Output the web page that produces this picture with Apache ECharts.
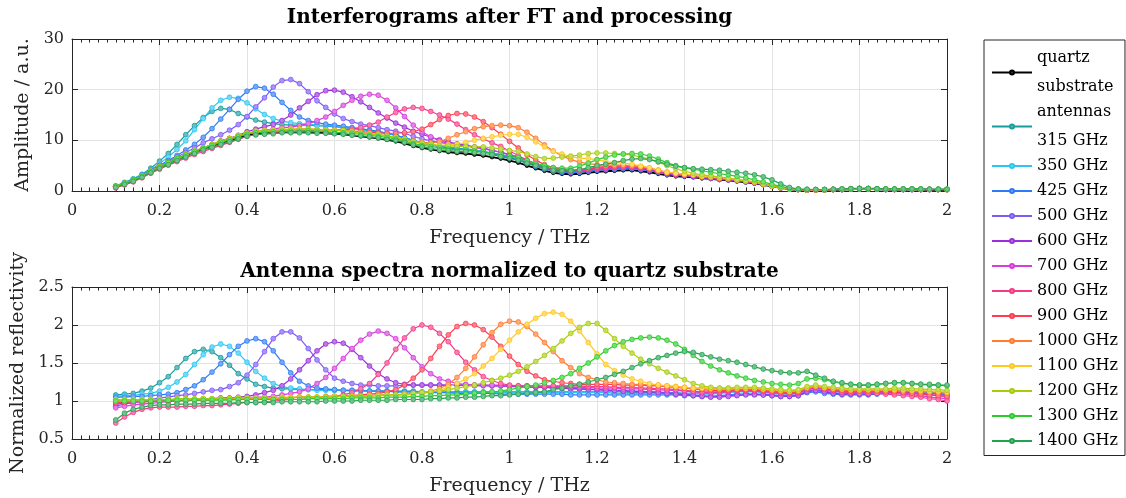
<!DOCTYPE html>
<html>
<head>
<meta charset="utf-8">
<script src="https://cdn.jsdelivr.net/npm/echarts@6/dist/echarts.min.js"></script>
<style>
  html, body { margin: 0; padding: 0; background: #ffffff; }
  #chart { width: 1126px; height: 498px; }
</style>
</head>
<body>
<div id="chart"></div>
<script>
// Frequency sampling of all spectra (THz)
const freqTHz = [
  0.10,0.12,0.14,0.16,0.18,0.20,0.22,0.24,0.26,0.28,
  0.30,0.32,0.34,0.36,0.38,0.40,0.42,0.44,0.46,0.48,
  0.50,0.52,0.54,0.56,0.58,0.60,0.62,0.64,0.66,0.68,
  0.70,0.72,0.74,0.76,0.78,0.80,0.82,0.84,0.86,0.88,
  0.90,0.92,0.94,0.96,0.98,1.00,1.02,1.04,1.06,1.08,
  1.10,1.12,1.14,1.16,1.18,1.20,1.22,1.24,1.26,1.28,
  1.30,1.32,1.34,1.36,1.38,1.40,1.42,1.44,1.46,1.48,
  1.50,1.52,1.54,1.56,1.58,1.60,1.62,1.64,1.66,1.68,
  1.70,1.72,1.74,1.76,1.78,1.80,1.82,1.84,1.86,1.88,
  1.90,1.92,1.94,1.96,1.98,2.00
];

// Amplitude spectra after FT (a.u.)
const ampQuartz = [
  0.9,1.5,2.1,2.9,3.8,4.7,5.5,6.3,7.0,7.7,
  8.3,8.9,9.5,10.0,10.5,11.0,11.3,11.4,11.5,11.6,
  11.6,11.6,11.6,11.5,11.4,11.3,11.2,11.0,10.8,10.6,
  10.4,10.1,9.8,9.4,8.9,8.5,8.2,7.9,7.7,7.5,
  7.4,7.2,7.0,6.7,6.4,6.0,5.6,5.0,4.5,4.0,
  3.6,3.4,3.3,3.4,3.6,3.8,3.9,4.0,4.1,4.1,
  3.9,3.7,3.4,3.1,2.9,2.8,2.7,2.5,2.4,2.2,
  2.1,1.9,1.7,1.5,1.2,0.9,0.6,0.35,0.25,0.2,
  0.2,0.2,0.25,0.3,0.35,0.4,0.4,0.35,0.3,0.3,
  0.3,0.3,0.3,0.25,0.25,0.25
];
const amp315 = [
  1.0,1.7,2.4,3.3,4.5,5.9,7.4,9.2,11.1,12.9,
  14.5,15.7,16.3,16.1,15.3,14.6,14.0,13.6,13.3,13.1,
  13.0,13.0,13.0,12.9,12.8,12.7,12.5,12.3,12.1,11.9,
  11.6,11.3,11.0,10.5,10.0,9.5,9.2,8.8,8.6,8.4,
  8.3,8.1,7.8,7.5,7.2,6.7,6.3,5.6,5.0,4.5,
  4.0,3.8,3.7,3.8,4.0,4.3,4.4,4.5,4.6,4.6,
  4.3,4.1,3.8,3.4,3.2,3.1,3.0,2.8,2.6,2.4,
  2.4,2.1,1.9,1.7,1.3,1.0,0.7,0.4,0.3,0.25,
  0.25,0.25,0.3,0.35,0.4,0.45,0.45,0.4,0.35,0.35,
  0.35,0.35,0.35,0.3,0.3,0.3
];
const amp350 = [
  1.0,1.6,2.3,3.2,4.2,5.4,6.7,8.2,9.9,12.1,
  14.3,16.4,17.9,18.5,18.3,17.4,16.2,15.1,14.3,13.8,
  13.5,13.3,13.2,13.0,12.9,12.8,12.6,12.4,12.2,12.0,
  11.8,11.4,11.0,10.5,10.0,9.5,9.2,8.8,8.6,8.3,
  8.2,8.0,7.8,7.4,7.1,6.7,6.2,5.6,5.0,4.4,
  4.0,3.8,3.7,3.8,4.0,4.2,4.3,4.4,4.5,4.5,
  4.3,4.1,3.7,3.4,3.2,3.1,3.0,2.7,2.6,2.4,
  2.3,2.1,1.9,1.7,1.3,1.0,0.7,0.4,0.3,0.25,
  0.25,0.25,0.3,0.35,0.4,0.45,0.45,0.4,0.35,0.35,
  0.35,0.35,0.35,0.3,0.3,0.3
];
const amp425 = [
  0.9,1.6,2.2,3.1,4.1,5.1,6.0,7.0,8.1,9.2,
  10.6,12.3,14.2,16.1,18.1,19.7,20.6,20.3,19.1,17.5,
  15.9,14.6,13.9,13.5,13.2,13.0,12.8,12.5,12.3,12.0,
  11.8,11.4,11.0,10.5,10.0,9.4,9.1,8.8,8.5,8.3,
  8.1,7.9,7.7,7.4,7.0,6.5,6.1,5.5,4.9,4.4,
  3.9,3.7,3.6,3.7,3.9,4.1,4.2,4.3,4.4,4.4,
  4.2,4.0,3.7,3.3,3.1,3.0,2.9,2.7,2.5,2.4,
  2.3,2.1,1.9,1.6,1.3,1.0,0.6,0.4,0.3,0.2,
  0.2,0.2,0.3,0.3,0.4,0.4,0.4,0.4,0.3,0.3,
  0.3,0.3,0.3,0.3,0.3,0.3
];
const amp500 = [
  0.8,1.4,2.1,2.9,3.9,4.9,5.8,6.7,7.6,8.5,
  9.5,10.3,11.1,12.0,13.1,14.7,16.6,18.4,20.5,21.8,
  22.0,21.2,19.6,17.8,16.5,15.2,14.3,13.7,13.2,12.9,
  12.5,12.1,11.8,11.4,10.8,10.3,9.9,9.6,9.3,9.1,
  9.0,8.6,8.4,8.0,7.7,7.1,6.7,6.0,5.3,4.7,
  4.2,4.0,3.9,3.9,4.2,4.4,4.5,4.6,4.7,4.6,
  4.4,4.1,3.8,3.4,3.2,3.1,2.9,2.7,2.5,2.3,
  2.2,2.1,1.9,1.6,1.3,1.0,0.6,0.4,0.3,0.2,
  0.2,0.2,0.3,0.3,0.4,0.4,0.4,0.4,0.3,0.3,
  0.3,0.3,0.3,0.3,0.3,0.3
];
const amp600 = [
  0.9,1.5,2.1,2.9,3.8,4.7,5.6,6.4,7.1,7.9,
  8.5,9.2,9.9,10.4,11.0,11.7,12.2,12.7,13.1,13.9,
  15.0,16.4,17.7,19.0,19.8,19.9,19.5,18.6,17.6,16.5,
  15.4,14.4,13.4,12.6,11.8,11.2,10.6,10.1,9.7,9.3,
  9.0,8.7,8.5,8.0,7.7,7.2,6.7,6.0,5.3,4.7,
  4.2,4.0,3.8,3.9,4.1,4.4,4.4,4.6,4.6,4.6,
  4.4,4.1,3.8,3.4,3.2,3.0,2.9,2.7,2.5,2.3,
  2.2,2.0,1.8,1.6,1.3,1.0,0.6,0.4,0.3,0.2,
  0.2,0.2,0.3,0.3,0.4,0.4,0.4,0.4,0.3,0.3,
  0.3,0.3,0.3,0.3,0.3,0.3
];
const amp700 = [
  0.8,1.4,2.0,2.8,3.7,4.6,5.4,6.3,7.1,7.8,
  8.5,9.1,9.8,10.3,10.9,11.4,11.8,12.0,12.2,12.5,
  12.6,12.9,13.3,13.9,14.6,15.7,16.9,17.9,18.7,19.1,
  18.9,17.9,16.4,14.7,13.0,11.7,10.7,9.9,9.4,9.0,
  8.9,8.6,8.3,8.0,7.6,7.1,6.6,5.9,5.3,4.7,
  4.2,4.0,3.8,3.9,4.2,4.4,4.5,4.6,4.7,4.7,
  4.5,4.2,3.9,3.5,3.3,3.1,3.0,2.8,2.6,2.4,
  2.3,2.1,1.9,1.7,1.3,1.0,0.7,0.4,0.3,0.2,
  0.2,0.2,0.3,0.3,0.4,0.4,0.4,0.4,0.3,0.3,
  0.3,0.3,0.3,0.3,0.3,0.3
];
const amp800 = [
  0.6,1.2,1.8,2.6,3.5,4.3,5.1,5.8,6.5,7.2,
  7.8,8.4,9.0,9.6,10.2,10.8,11.1,11.3,11.5,11.7,
  11.8,11.8,11.9,12.0,12.0,12.0,12.1,12.2,12.5,13.0,
  13.6,14.6,15.5,16.2,16.5,16.3,15.7,15.0,14.2,13.2,
  12.1,11.1,10.3,9.5,8.8,7.9,7.0,6.1,5.4,4.8,
  4.3,4.1,4.0,4.1,4.3,4.5,4.6,4.7,4.8,4.8,
  4.6,4.3,3.9,3.6,3.3,3.2,3.1,2.8,2.7,2.5,
  2.4,2.2,1.9,1.7,1.4,1.0,0.7,0.4,0.3,0.2,
  0.2,0.2,0.3,0.3,0.4,0.4,0.4,0.4,0.3,0.3,
  0.3,0.3,0.3,0.3,0.3,0.25
];
const amp900 = [
  0.9,1.5,2.1,2.9,3.8,4.7,5.5,6.3,7.0,7.8,
  8.4,9.0,9.7,10.2,10.7,11.3,11.6,11.7,12.0,12.1,
  12.1,12.2,12.2,12.1,12.1,12.0,12.0,11.8,11.7,11.6,
  11.5,11.4,11.4,11.5,11.7,12.2,13.1,14.1,14.9,15.3,
  15.2,14.6,13.7,12.5,11.2,9.8,8.5,7.1,6.1,5.2,
  4.6,4.3,4.1,4.2,4.4,4.7,4.8,4.9,5.0,5.0,
  4.8,4.5,4.1,3.7,3.5,3.3,3.2,2.9,2.8,2.5,
  2.4,2.2,2.0,1.7,1.4,1.0,0.7,0.4,0.3,0.2,
  0.2,0.2,0.3,0.3,0.4,0.45,0.45,0.4,0.35,0.35,
  0.35,0.35,0.3,0.3,0.3,0.3
];
const amp1000 = [
  0.9,1.5,2.1,2.9,3.8,4.7,5.6,6.4,7.1,7.9,
  8.5,9.1,9.7,10.3,10.8,11.3,11.6,11.9,12.0,12.1,
  12.1,12.2,12.2,12.1,12.1,12.0,11.9,11.8,11.6,11.3,
  11.2,10.9,10.6,10.2,9.9,9.6,9.5,9.7,10.4,11.1,
  11.7,12.3,12.7,12.9,13.0,12.9,12.5,11.6,10.4,9.1,
  7.9,6.9,6.2,5.7,5.4,5.2,5.1,5.1,5.1,5.0,
  4.8,4.5,4.1,3.7,3.5,3.3,3.2,2.9,2.8,2.6,
  2.4,2.2,2.0,1.7,1.4,1.0,0.7,0.4,0.3,0.25,
  0.25,0.25,0.3,0.35,0.4,0.45,0.45,0.4,0.35,0.35,
  0.35,0.35,0.35,0.3,0.3,0.3
];
const amp1100 = [
  0.9,1.5,2.1,2.9,3.9,4.8,5.6,6.4,7.1,7.9,
  8.5,9.2,9.8,10.3,10.9,11.4,11.8,11.9,12.0,12.2,
  12.2,12.2,12.2,12.1,12.0,12.0,11.9,11.7,11.4,11.3,
  11.1,10.8,10.5,10.2,9.7,9.4,9.2,9.0,9.1,9.2,
  9.6,10.0,10.4,10.7,11.0,11.2,11.2,10.6,9.7,8.7,
  7.8,7.3,6.8,6.5,6.4,6.2,5.8,5.6,5.5,5.3,
  4.9,4.6,4.1,3.7,3.5,3.3,3.2,2.9,2.8,2.6,
  2.5,2.2,2.0,1.8,1.4,1.0,0.7,0.4,0.3,0.25,
  0.25,0.25,0.3,0.35,0.4,0.45,0.45,0.4,0.35,0.35,
  0.35,0.35,0.35,0.3,0.3,0.3
];
const amp1200 = [
  0.9,1.5,2.1,3.0,3.9,4.8,5.6,6.5,7.2,7.9,
  8.5,9.2,9.8,10.3,10.9,11.4,11.8,11.9,12.0,12.1,
  12.1,12.2,12.2,12.1,12.0,11.9,11.9,11.7,11.4,11.2,
  11.1,10.9,10.6,10.2,9.8,9.4,9.2,8.9,8.9,8.8,
  8.8,8.7,8.7,8.5,8.3,8.0,7.8,7.3,6.8,6.4,
  6.5,6.7,6.9,7.1,7.4,7.5,7.5,7.4,7.3,7.1,
  6.7,6.3,5.7,5.0,4.4,3.9,3.5,3.2,3.0,2.8,
  2.5,2.2,2.0,1.8,1.4,1.0,0.7,0.4,0.3,0.25,
  0.25,0.25,0.3,0.35,0.4,0.45,0.45,0.4,0.35,0.35,
  0.35,0.35,0.35,0.3,0.3,0.3
];
const amp1300 = [
  0.9,1.5,2.1,2.9,3.8,4.7,5.6,6.4,7.1,7.8,
  8.4,9.0,9.6,10.1,10.7,11.2,11.5,11.6,11.7,11.8,
  11.8,11.8,11.9,11.8,11.7,11.6,11.5,11.4,11.2,11.0,
  10.8,10.6,10.3,9.9,9.4,9.0,8.8,8.5,8.3,8.1,
  8.1,7.9,7.8,7.5,7.2,6.9,6.6,6.0,5.4,5.0,
  4.6,4.5,4.5,4.9,5.5,6.2,6.7,7.1,7.3,7.4,
  7.3,6.9,6.3,5.6,5.0,4.6,4.3,4.0,3.7,3.4,
  3.2,2.9,2.6,2.2,1.8,1.3,0.9,0.5,0.35,0.3,
  0.3,0.3,0.3,0.35,0.45,0.5,0.5,0.45,0.4,0.4,
  0.4,0.4,0.4,0.35,0.35,0.35
];
const amp1400 = [
  0.7,1.3,1.9,2.7,3.6,4.5,5.2,6.0,6.7,7.4,
  8.1,8.6,9.2,9.7,10.3,10.8,11.1,11.2,11.3,11.5,
  11.5,11.5,11.5,11.4,11.4,11.3,11.2,11.0,10.9,10.7,
  10.5,10.2,10.0,9.6,9.1,8.7,8.4,8.1,8.0,7.8,
  7.8,7.6,7.4,7.2,6.8,6.5,6.1,5.5,5.0,4.5,
  4.1,4.0,4.0,4.2,4.6,5.0,5.3,5.6,6.0,6.3,
  6.4,6.2,5.8,5.3,4.9,4.6,4.4,4.3,4.2,4.1,
  3.9,3.7,3.5,3.2,2.8,2.2,1.4,0.7,0.4,0.35,
  0.3,0.3,0.35,0.4,0.45,0.5,0.5,0.45,0.4,0.4,
  0.4,0.4,0.4,0.35,0.35,0.35
];

// Antenna reflectivity normalized to the quartz substrate
const ref315 = [
  1.08,1.09,1.10,1.13,1.17,1.24,1.32,1.44,1.56,1.65,
  1.68,1.65,1.57,1.47,1.36,1.29,1.22,1.19,1.17,1.16,
  1.16,1.15,1.15,1.15,1.15,1.14,1.14,1.14,1.14,1.13,
  1.13,1.13,1.13,1.13,1.13,1.12,1.12,1.12,1.12,1.12,
  1.12,1.12,1.12,1.12,1.12,1.12,1.12,1.12,1.12,1.12,
  1.12,1.12,1.12,1.12,1.12,1.12,1.12,1.12,1.12,1.11,
  1.11,1.11,1.11,1.11,1.11,1.10,1.10,1.10,1.10,1.11,
  1.12,1.13,1.13,1.13,1.12,1.11,1.10,1.10,1.11,1.16,
  1.18,1.16,1.14,1.13,1.12,1.12,1.12,1.13,1.14,1.15,
  1.15,1.14,1.13,1.12,1.11,1.10
];
const ref350 = [
  1.06,1.07,1.07,1.09,1.10,1.13,1.18,1.25,1.35,1.48,
  1.61,1.71,1.75,1.72,1.63,1.51,1.39,1.30,1.23,1.19,
  1.17,1.16,1.15,1.14,1.14,1.14,1.14,1.13,1.13,1.13,
  1.13,1.13,1.12,1.12,1.12,1.12,1.12,1.12,1.12,1.11,
  1.11,1.11,1.11,1.11,1.11,1.11,1.11,1.11,1.11,1.11,
  1.11,1.11,1.11,1.11,1.11,1.11,1.11,1.10,1.10,1.10,
  1.10,1.10,1.10,1.10,1.10,1.10,1.10,1.09,1.09,1.10,
  1.11,1.12,1.12,1.12,1.11,1.10,1.09,1.09,1.10,1.15,
  1.17,1.15,1.13,1.12,1.11,1.11,1.11,1.12,1.13,1.14,
  1.14,1.13,1.12,1.11,1.10,1.09
];
const ref425 = [
  1.05,1.05,1.06,1.06,1.07,1.08,1.09,1.11,1.15,1.20,
  1.28,1.38,1.49,1.61,1.72,1.79,1.82,1.78,1.66,1.51,
  1.37,1.26,1.20,1.17,1.16,1.15,1.14,1.14,1.14,1.13,
  1.13,1.13,1.12,1.12,1.12,1.11,1.11,1.11,1.11,1.10,
  1.10,1.10,1.10,1.10,1.09,1.09,1.09,1.09,1.09,1.09,
  1.09,1.09,1.08,1.08,1.08,1.08,1.08,1.08,1.08,1.08,
  1.08,1.08,1.08,1.08,1.08,1.07,1.07,1.06,1.06,1.07,
  1.08,1.09,1.09,1.09,1.08,1.07,1.06,1.06,1.07,1.11,
  1.12,1.10,1.09,1.08,1.08,1.08,1.08,1.09,1.10,1.11,
  1.11,1.11,1.10,1.10,1.10,1.09
];
const ref500 = [
  0.93,0.96,0.98,1.00,1.02,1.04,1.05,1.07,1.08,1.10,
  1.12,1.14,1.15,1.19,1.24,1.34,1.48,1.65,1.82,1.91,
  1.91,1.83,1.69,1.54,1.41,1.30,1.26,1.23,1.21,1.21,
  1.20,1.20,1.20,1.21,1.21,1.21,1.21,1.21,1.21,1.21,
  1.21,1.20,1.20,1.20,1.20,1.19,1.19,1.19,1.18,1.18,
  1.18,1.17,1.17,1.16,1.16,1.15,1.15,1.14,1.14,1.13,
  1.13,1.12,1.12,1.11,1.10,1.09,1.08,1.07,1.06,1.06,
  1.07,1.08,1.09,1.09,1.09,1.08,1.07,1.07,1.08,1.13,
  1.15,1.13,1.11,1.10,1.10,1.10,1.10,1.11,1.12,1.13,
  1.13,1.12,1.11,1.10,1.09,1.08
];
const ref600 = [
  0.96,0.97,0.98,0.99,0.99,1.00,1.01,1.01,1.02,1.02,
  1.03,1.03,1.04,1.04,1.05,1.06,1.08,1.11,1.14,1.20,
  1.29,1.41,1.53,1.66,1.75,1.78,1.76,1.68,1.57,1.46,
  1.36,1.29,1.24,1.22,1.21,1.21,1.21,1.21,1.21,1.21,
  1.21,1.21,1.21,1.20,1.20,1.20,1.19,1.19,1.18,1.18,
  1.17,1.17,1.16,1.16,1.15,1.15,1.14,1.14,1.13,1.13,
  1.12,1.12,1.11,1.10,1.09,1.08,1.07,1.06,1.05,1.05,
  1.06,1.07,1.08,1.08,1.08,1.07,1.06,1.06,1.07,1.12,
  1.14,1.12,1.10,1.09,1.09,1.09,1.09,1.10,1.11,1.11,
  1.11,1.10,1.09,1.08,1.07,1.06
];
const ref700 = [
  0.91,0.93,0.95,0.96,0.97,0.98,0.99,1.00,1.01,1.01,
  1.02,1.02,1.03,1.03,1.04,1.04,1.05,1.05,1.06,1.08,
  1.10,1.12,1.16,1.23,1.31,1.43,1.56,1.69,1.80,1.88,
  1.92,1.89,1.82,1.70,1.57,1.45,1.36,1.29,1.26,1.23,
  1.22,1.21,1.21,1.21,1.21,1.20,1.20,1.20,1.20,1.19,
  1.19,1.19,1.18,1.18,1.18,1.17,1.17,1.17,1.16,1.16,
  1.16,1.15,1.15,1.14,1.14,1.13,1.12,1.11,1.11,1.11,
  1.12,1.13,1.13,1.13,1.12,1.11,1.10,1.09,1.10,1.15,
  1.17,1.15,1.13,1.12,1.11,1.11,1.11,1.11,1.11,1.10,
  1.09,1.08,1.07,1.05,1.04,1.03
];
const ref800 = [
  0.71,0.79,0.85,0.89,0.91,0.92,0.92,0.92,0.93,0.93,
  0.94,0.94,0.95,0.96,0.97,0.98,0.98,0.99,1.00,1.01,
  1.02,1.02,1.03,1.04,1.05,1.06,1.08,1.11,1.16,1.23,
  1.35,1.50,1.68,1.83,1.95,2.00,1.97,1.89,1.78,1.64,
  1.51,1.41,1.32,1.27,1.23,1.21,1.20,1.20,1.20,1.20,
  1.20,1.20,1.20,1.20,1.19,1.19,1.19,1.18,1.18,1.18,
  1.17,1.17,1.16,1.16,1.15,1.14,1.13,1.12,1.12,1.12,
  1.13,1.14,1.14,1.14,1.13,1.12,1.11,1.10,1.11,1.16,
  1.18,1.16,1.14,1.12,1.11,1.10,1.10,1.10,1.09,1.08,
  1.07,1.06,1.05,1.03,1.02,1.00
];
const ref900 = [
  0.98,0.98,0.99,0.99,0.99,1.00,1.00,1.00,1.00,1.01,
  1.01,1.01,1.02,1.02,1.02,1.03,1.03,1.03,1.04,1.04,
  1.04,1.05,1.05,1.05,1.06,1.06,1.07,1.07,1.08,1.09,
  1.10,1.12,1.15,1.21,1.30,1.41,1.56,1.72,1.87,1.98,
  2.02,2.00,1.94,1.84,1.72,1.59,1.48,1.39,1.33,1.28,
  1.26,1.24,1.23,1.22,1.22,1.22,1.22,1.22,1.21,1.21,
  1.21,1.20,1.20,1.19,1.18,1.17,1.16,1.15,1.14,1.14,
  1.14,1.15,1.15,1.15,1.14,1.13,1.12,1.11,1.12,1.17,
  1.19,1.17,1.15,1.14,1.13,1.13,1.13,1.13,1.12,1.12,
  1.11,1.10,1.09,1.08,1.07,1.06
];
const ref1000 = [
  1.00,1.00,1.00,1.00,1.01,1.01,1.01,1.01,1.02,1.02,
  1.02,1.02,1.02,1.03,1.03,1.03,1.03,1.04,1.04,1.04,
  1.04,1.05,1.05,1.05,1.06,1.06,1.06,1.07,1.07,1.07,
  1.08,1.08,1.08,1.09,1.10,1.10,1.13,1.16,1.22,1.31,
  1.43,1.58,1.74,1.90,2.01,2.05,2.04,1.98,1.88,1.77,
  1.65,1.53,1.44,1.36,1.31,1.28,1.25,1.24,1.23,1.22,
  1.22,1.21,1.21,1.20,1.19,1.18,1.17,1.17,1.16,1.16,
  1.16,1.16,1.16,1.16,1.15,1.14,1.13,1.12,1.13,1.17,
  1.19,1.17,1.16,1.15,1.14,1.14,1.14,1.14,1.14,1.14,
  1.13,1.13,1.12,1.12,1.11,1.10
];
const ref1100 = [
  1.01,1.01,1.01,1.01,1.02,1.02,1.02,1.02,1.02,1.03,
  1.03,1.03,1.03,1.03,1.04,1.04,1.04,1.04,1.04,1.05,
  1.05,1.05,1.05,1.05,1.05,1.06,1.06,1.06,1.06,1.07,
  1.07,1.07,1.07,1.08,1.09,1.11,1.12,1.14,1.18,1.23,
  1.29,1.36,1.46,1.56,1.68,1.80,1.91,2.01,2.09,2.15,
  2.17,2.14,2.05,1.92,1.77,1.62,1.48,1.40,1.34,1.29,
  1.26,1.23,1.21,1.20,1.19,1.18,1.17,1.17,1.17,1.17,
  1.17,1.17,1.17,1.17,1.16,1.15,1.14,1.13,1.14,1.18,
  1.20,1.18,1.17,1.16,1.15,1.15,1.15,1.15,1.15,1.15,
  1.15,1.14,1.14,1.13,1.13,1.12
];
const ref1200 = [
  1.02,1.02,1.02,1.02,1.02,1.02,1.02,1.03,1.03,1.03,
  1.03,1.03,1.03,1.03,1.04,1.04,1.04,1.04,1.04,1.04,
  1.04,1.05,1.05,1.05,1.05,1.05,1.06,1.06,1.06,1.06,
  1.07,1.08,1.08,1.09,1.10,1.11,1.12,1.13,1.15,1.17,
  1.19,1.21,1.24,1.27,1.30,1.34,1.39,1.45,1.52,1.60,
  1.69,1.79,1.89,1.97,2.02,2.02,1.93,1.82,1.72,1.63,
  1.55,1.49,1.43,1.38,1.33,1.28,1.23,1.20,1.18,1.17,
  1.17,1.18,1.18,1.18,1.17,1.16,1.15,1.14,1.15,1.19,
  1.21,1.19,1.18,1.17,1.16,1.16,1.16,1.16,1.16,1.17,
  1.17,1.16,1.16,1.15,1.15,1.14
];
const ref1300 = [
  1.00,1.00,1.00,1.00,1.00,1.00,1.01,1.01,1.01,1.01,
  1.01,1.01,1.01,1.01,1.02,1.02,1.02,1.02,1.02,1.02,
  1.02,1.02,1.03,1.03,1.03,1.03,1.03,1.04,1.04,1.04,
  1.04,1.05,1.05,1.05,1.06,1.06,1.07,1.07,1.08,1.08,
  1.09,1.10,1.11,1.12,1.13,1.15,1.17,1.19,1.21,1.24,
  1.27,1.31,1.36,1.43,1.50,1.58,1.66,1.73,1.78,1.81,
  1.83,1.84,1.83,1.80,1.75,1.68,1.60,1.52,1.46,1.41,
  1.37,1.33,1.30,1.27,1.25,1.23,1.22,1.21,1.23,1.29,
  1.30,1.28,1.25,1.23,1.22,1.21,1.21,1.22,1.23,1.24,
  1.24,1.23,1.22,1.21,1.21,1.20
];
const ref1400 = [
  0.75,0.84,0.89,0.92,0.94,0.95,0.95,0.96,0.96,0.96,
  0.97,0.97,0.97,0.97,0.98,0.98,0.98,0.98,0.98,0.99,
  0.99,0.99,0.99,0.99,1.00,1.00,1.00,1.00,1.01,1.01,
  1.01,1.01,1.02,1.02,1.02,1.02,1.03,1.03,1.04,1.04,
  1.05,1.05,1.06,1.07,1.07,1.08,1.09,1.10,1.11,1.12,
  1.15,1.17,1.20,1.22,1.25,1.28,1.31,1.35,1.39,1.44,
  1.49,1.53,1.57,1.60,1.63,1.65,1.64,1.61,1.58,1.55,
  1.53,1.51,1.48,1.45,1.42,1.40,1.38,1.37,1.37,1.39,
  1.34,1.30,1.26,1.24,1.22,1.21,1.21,1.22,1.23,1.24,
  1.24,1.23,1.22,1.22,1.21,1.21
];

// Legend entries, colours and the spectra that belong to them
const quartzName = 'quartz substrate';
const quartzColor = '#000000';
const antennaNames = [
  'antennas 315 GHz', '350 GHz', '425 GHz', '500 GHz', '600 GHz', '700 GHz', '800 GHz',
  '900 GHz', '1000 GHz', '1100 GHz', '1200 GHz', '1300 GHz', '1400 GHz'
];
const antennaColors = [
  '#189c9c', '#2bc6f2', '#2d7bf4', '#7d5bf6', '#9b2fdc', '#d63ddc', '#f43a86',
  '#ff3c52', '#ff7b31', '#ffc81e', '#a6cc0a', '#2bcc2b', '#23a34f'
];
const antennaAmp = [amp315, amp350, amp425, amp500, amp600, amp700, amp800,
  amp900, amp1000, amp1100, amp1200, amp1300, amp1400];
const antennaRef = [ref315, ref350, ref425, ref500, ref600, ref700, ref800,
  ref900, ref1000, ref1100, ref1200, ref1300, ref1400];
const legendLines = {
  'quartz substrate': 'quartz\nsubstrate',
  'antennas 315 GHz': 'antennas\n315 GHz'
};

const FONT = '"DejaVu Serif", "Liberation Serif", serif';
const INK = '#262626';
const GRIDLINE = '#e3e3e3';

function tint(hex, k) {
  const n = parseInt(hex.slice(1), 16);
  const r = (n >> 16) & 255, g = (n >> 8) & 255, b = n & 255;
  const m = c => Math.round(c + (255 - c) * k);
  return 'rgb(' + m(r) + ',' + m(g) + ',' + m(b) + ')';
}
function pairs(values) {
  return freqTHz.map((f, i) => [f, values[i]]);
}
function lineSeries(name, color, values, axisIdx, isQuartz) {
  return {
    type: 'line',
    name: name,
    xAxisIndex: axisIdx,
    yAxisIndex: axisIdx,
    data: pairs(values),
    symbol: 'circle',
    symbolSize: isQuartz ? 3.8 : 4.8,
    showSymbol: true,
    silent: true,
    animation: false,
    lineStyle: { color: color, width: isQuartz ? 1.8 : 1.2 },
    itemStyle: { color: isQuartz ? '#333333' : tint(color, 0.35), borderColor: color, borderWidth: 0.8 },
    emphasis: { disabled: true }
  };
}

const tickFmt = v => String(+v.toFixed(1));

function xAxisPair(gridIndex) {
  const common = {
    type: 'value', gridIndex: gridIndex, min: 0, max: 2, interval: 0.2,
    axisLine: { show: true, onZero: false, lineStyle: { color: INK, width: 1 } },
    axisTick: { show: true, inside: true, length: 6, lineStyle: { color: INK, width: 1 } },
    minorTick: { show: true, splitNumber: 10, length: 3.5, lineStyle: { color: INK, width: 1 } }
  };
  return [
    Object.assign({}, common, {
      position: 'bottom',
      name: 'Frequency / THz', nameLocation: 'middle', nameGap: 38,
      nameTextStyle: { fontFamily: FONT, fontSize: 19, color: INK },
      axisLabel: { margin: 12, fontFamily: FONT, fontSize: 16, color: INK, formatter: tickFmt },
      splitLine: { show: true, lineStyle: { color: GRIDLINE, width: 1 } }
    }),
    Object.assign({}, common, {
      position: 'top',
      axisLabel: { show: false },
      splitLine: { show: false }
    })
  ];
}
function yAxisPair(gridIndex, min, max, step, title) {
  const common = {
    type: 'value', gridIndex: gridIndex, min: min, max: max, interval: step,
    axisLine: { show: true, onZero: false, lineStyle: { color: INK, width: 1 } },
    axisTick: { show: true, inside: true, length: 6, lineStyle: { color: INK, width: 1 } }
  };
  return [
    Object.assign({}, common, {
      position: 'left',
      name: title, nameLocation: 'middle', nameGap: 33,
      nameTextStyle: { fontFamily: FONT, fontSize: 19, color: INK },
      axisLabel: { margin: 8, fontFamily: FONT, fontSize: 16, color: INK, formatter: tickFmt },
      splitLine: { show: true, lineStyle: { color: GRIDLINE, width: 1 } }
    }),
    Object.assign({}, common, {
      position: 'right',
      axisLabel: { show: false },
      splitLine: { show: false }
    })
  ];
}

const series = [];
series.push(lineSeries(quartzName, quartzColor, ampQuartz, 0, true));
antennaNames.forEach((n, k) => series.push(lineSeries(n, antennaColors[k], antennaAmp[k], 0, false)));
antennaNames.forEach((n, k) => series.push(lineSeries(n, antennaColors[k], antennaRef[k], 2, false)));

const option = {
  animation: false,
  backgroundColor: '#ffffff',
  grid: [
    { left: 72, top: 39, width: 875, height: 152, containLabel: false, outerBoundsMode: 'none' },
    { left: 72, top: 287, width: 875, height: 152, containLabel: false, outerBoundsMode: 'none' }
  ],
  xAxis: xAxisPair(0).concat(xAxisPair(1)),
  yAxis: yAxisPair(0, 0, 30, 10, 'Amplitude / a.u.').concat(yAxisPair(1, 0.5, 2.5, 0.5, 'Normalized reflectivity')),
  legend: {
    orient: 'vertical',
    left: 984, top: 40,
    padding: [3.5, 7, 0, 7],
    itemGap: -4,
    itemWidth: 40, itemHeight: 5,
    borderColor: INK, borderWidth: 1, borderRadius: 0,
    backgroundColor: '#ffffff',
    selectedMode: false,
    data: [quartzName].concat(antennaNames),
    formatter: n => legendLines[n] || n,
    textStyle: { fontFamily: FONT, fontSize: 16, color: '#000000', lineHeight: 29 }
  },
  graphic: [
    {
      type: 'text', x: 509.5, y: 18, silent: true,
      style: { text: 'Interferograms after FT and processing', fontFamily: FONT, fontSize: 20,
               fontWeight: 'bold', fill: '#000000', align: 'center', verticalAlign: 'middle' }
    },
    {
      type: 'text', x: 509.5, y: 272, silent: true,
      style: { text: 'Antenna spectra normalized to quartz substrate', fontFamily: FONT, fontSize: 20,
               fontWeight: 'bold', fill: '#000000', align: 'center', verticalAlign: 'middle' }
    }
  ],
  series: series
};

const chart = echarts.init(document.getElementById('chart'), null, { renderer: 'canvas' });
chart.setOption(option);
</script>
</body>
</html>
